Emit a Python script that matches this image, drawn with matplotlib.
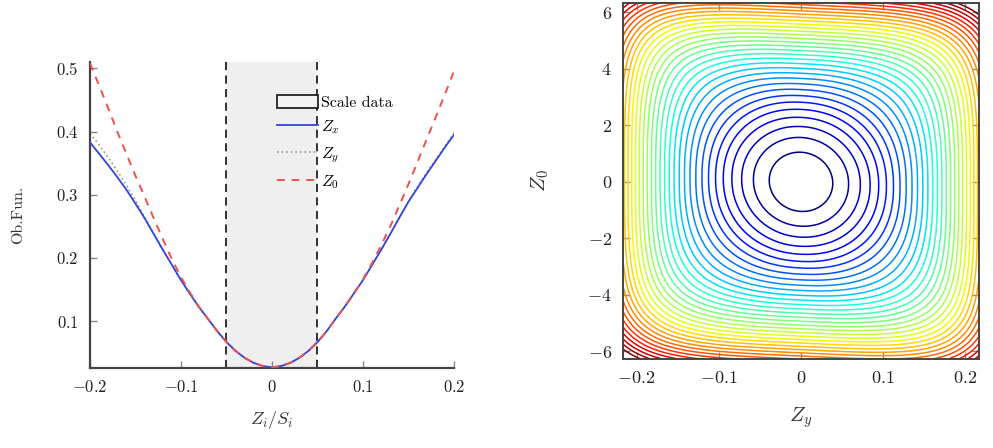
import numpy as np
import matplotlib
matplotlib.use("Agg")
import matplotlib.pyplot as plt
from matplotlib.patches import Patch
from matplotlib.lines import Line2D

plt.rcParams['font.family'] = 'serif'
plt.rcParams['font.serif'] = ['cmr10', 'DejaVu Serif']
plt.rcParams['mathtext.fontset'] = 'cm'
plt.rcParams['axes.formatter.use_mathtext'] = True

# ---------------- data: left panel ----------------
zs = [-0.20, -0.19, -0.18, -0.17, -0.16, -0.15, -0.14, -0.13, -0.12, -0.11,
      -0.10, -0.09, -0.08, -0.07, -0.06, -0.05, -0.04, -0.03, -0.02, -0.01,
      0.00, 0.01, 0.02, 0.03, 0.04, 0.05, 0.06, 0.07, 0.08, 0.09,
      0.10, 0.11, 0.12, 0.13, 0.14, 0.15, 0.16, 0.17, 0.18, 0.19, 0.20]
obj_zx = [0.383, 0.365, 0.347, 0.328, 0.308, 0.286, 0.263, 0.238, 0.213, 0.189,
          0.165, 0.143, 0.122, 0.103, 0.084, 0.067, 0.053, 0.042, 0.034, 0.029,
          0.027, 0.029, 0.034, 0.042, 0.053, 0.067, 0.084, 0.104, 0.123, 0.144,
          0.165, 0.189, 0.213, 0.238, 0.264, 0.289, 0.311, 0.333, 0.354, 0.375, 0.395]
obj_zy = [0.397, 0.379, 0.359, 0.338, 0.315, 0.291, 0.265, 0.239, 0.214, 0.189,
          0.165, 0.143, 0.122, 0.103, 0.084, 0.067, 0.053, 0.042, 0.034, 0.029,
          0.027, 0.029, 0.034, 0.042, 0.053, 0.067, 0.084, 0.104, 0.123, 0.144,
          0.165, 0.189, 0.213, 0.238, 0.264, 0.290, 0.313, 0.335, 0.356, 0.377, 0.398]
obj_z0 = [0.508, 0.473, 0.437, 0.400, 0.365, 0.330, 0.297, 0.263, 0.230, 0.198,
          0.170, 0.145, 0.122, 0.103, 0.084, 0.067, 0.053, 0.042, 0.034, 0.029,
          0.027, 0.029, 0.034, 0.042, 0.053, 0.067, 0.084, 0.104, 0.123, 0.144,
          0.166, 0.192, 0.220, 0.250, 0.283, 0.317, 0.352, 0.388, 0.423, 0.459, 0.495]
scale_lo, scale_hi = -0.05, 0.05
left_xticks = [-0.2, -0.1, 0.0, 0.1, 0.2]
left_xticklabels = ['$-0.2$', '$-0.1$', '$0$', '$0.1$', '$0.2$']
left_yticks = [0.1, 0.2, 0.3, 0.4, 0.5]
left_yticklabels = ['$0.1$', '$0.2$', '$0.3$', '$0.4$', '$0.5$']

# ---------------- data: right panel (objective surface) ----------------
zy_scale = 0.215         # Z_y scale
z0_scale = 5.83          # Z_0 scale
shear = 0.05             # tilt of the valleys
p_extra = 4.0            # squareness of outer contours
p_knee = 1.0
level_first = 0.0324
level_last = 1.40
n_levels = 35
right_xticks = [-0.2, -0.1, 0.0, 0.1, 0.2]
right_xticklabels = ['$-0.2$', '$-0.1$', '$0$', '$0.1$', '$0.2$']
right_yticks = [-6, -4, -2, 0, 2, 4, 6]
right_yticklabels = ['$-6$', '$-4$', '$-2$', '$0$', '$2$', '$4$', '$6$']

fig = plt.figure(figsize=(9.93, 4.48), dpi=100)

# ---------- left ----------
ax = fig.add_axes([0.0906, 0.1786, 0.3666, 0.683])
ax.axvspan(scale_lo, scale_hi, color='#efefef', lw=0, zorder=0)
for xv in (scale_lo, scale_hi):
    ax.axvline(xv, color='#222222', lw=1.3, ls=(0, (4.5, 3)), zorder=1)
ax.plot(zs, obj_zx, color='#3344dd', lw=1.3, zorder=3)
ax.plot(zs, obj_zy, color='#888888', lw=1.1, ls=(0, (1, 2)), zorder=2)
ax.plot(zs, obj_z0, color='#ee5050', lw=1.4, ls=(0, (4, 3.5)), zorder=4)
ax.set_xlim(-0.2, 0.2)
ax.set_ylim(0.026, 0.51)
ax.set_xticks(left_xticks)
ax.set_xticklabels(left_xticklabels)
ax.set_yticks(left_yticks)
ax.set_yticklabels(left_yticklabels)
for s in ('top', 'right'):
    ax.spines[s].set_visible(False)
for s in ('left', 'bottom'):
    ax.spines[s].set_color('#444444')
    ax.spines[s].set_linewidth(1.6)
ax.tick_params(direction='in', length=5, width=1.0, color='#888888',
               labelsize=12, pad=8, labelcolor='#222222')
ax.set_xlabel('$Z_i/S_i$', fontsize=13, color='#333333', labelpad=10)
ax.set_ylabel('Ob.Fun.', fontsize=11.5, color='#333333', labelpad=22)

handles = [Patch(facecolor='#f4f4f4', edgecolor='#111111', lw=1.2),
           Line2D([], [], color='#3344dd', lw=1.3),
           Line2D([], [], color='#888888', lw=1.1, ls=(0, (1, 2))),
           Line2D([], [], color='#ee5050', lw=1.4, ls=(0, (4, 3.5)))]
labels = ['Scale data', '$Z_x$', '$Z_y$', '$Z_0$']
leg = ax.legend(handles, labels, loc='upper left', bbox_to_anchor=(0.482, 0.93),
                frameon=False, fontsize=11.5, handlelength=2.6, handleheight=0.9,
                handletextpad=0.15, labelspacing=0.55, borderpad=0.2)

# ---------- right ----------
ax2 = fig.add_axes([0.6274, 0.1987, 0.3585, 0.7946])
xlim2 = (-0.2165, 0.2165)
ylim2 = (-6.27, 6.33)
gy = np.linspace(xlim2[0], xlim2[1], 101)
gz = np.linspace(ylim2[0], ylim2[1], 101)
Y, Z = np.meshgrid(gy, gz)
A = Y / zy_scale
B = Z / z0_scale + shear * A
R2 = A**2 + B**2
T = (R2 / p_knee)**2
P = 2.0 + p_extra * T / (1.0 + T)
F = (np.abs(A)**P + np.abs(B)**P) ** (2.0 / P)
levels = np.linspace(level_first, level_last, n_levels)
ax2.contour(Y, Z, F, levels=levels, cmap='jet', linewidths=1.1)
ax2.set_xlim(*xlim2)
ax2.set_ylim(*ylim2)
ax2.set_xticks(right_xticks)
ax2.set_xticklabels(right_xticklabels)
ax2.set_yticks(right_yticks)
ax2.set_yticklabels(right_yticklabels)
for s in ax2.spines.values():
    s.set_color('#444444')
    s.set_linewidth(1.4)
ax2.tick_params(direction='in', length=5, width=1.0, color='#888888',
                labelsize=13, pad=8, top=True, right=True, labelcolor='#222222')
ax2.set_xlabel('$Z_y$', fontsize=15, color='#333333', labelpad=14)
ax2.set_ylabel('$Z_0$', fontsize=15, color='#333333', labelpad=26)

fig.savefig('out.png', dpi=100)
